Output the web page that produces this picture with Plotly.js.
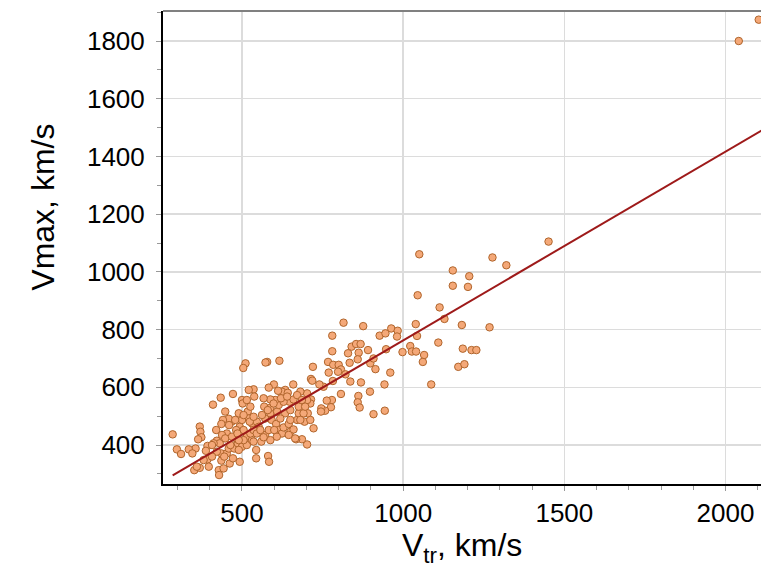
<!DOCTYPE html>
<html>
<head>
<meta charset="utf-8">
<script src="https://cdn.plot.ly/plotly-3.0.1.min.js"></script>
<style>html,body{margin:0;padding:0;background:#fff;}#chart{width:761px;height:568px;}</style>
</head>
<body>
<div id="chart"></div>
<script>
// Scatter data: transit speed (Vtr) vs maximum speed (Vmax), km/s
const vtr = [
1050,1045,1113,1128,815,876,780,927,945,963,983,981,1039,1043,1022,998,1027,1040,1065,1061,1109,1087,
840,854,868,829,862,891,780,767,783,800,807,834,859,898,914,908,947,960,942,943,908,
720,769,798,821,836,869,782,753,714,718,740,807,897,861,859,865,779,763,776,758,746,745,714,
722,702,686,668,694,712,704,712,702,681,659,634,624,642,612,599,583,616,578,573,511,504,
536,538,500,502,472,434,410,448,518,521,500,493,482,468,459,441,436,420,422,431,412,393,388,
369,371,374,364,356,335,346,298,311,285,352,369,393,397,428,429,443,436,436,462,453,459,476,
487,493,464,482,500,515,515,505,531,526,505,531,546,552,544,544,560,572,583,572,588,609,614,
603,588,567,569,588,592,606,614,624,608,588,581,584,629,645,650,660,645,665,671,676,676,691,
648,660,629,634,650,702,521,515,526,490,479,505,460,453,438,407,448,469,486,490,472,445,422,
407,381,360,536,546,557,524,536,562,580,598,621,640,671,686,696,681,650,619,600,567,536,490,
1451,1277,1320,1154,1205,1154,1201,1182,1268,1185,1212,1227,1171,1190,
2041,2103
];
const vmax = [
1061,919,877,837,824,812,779,779,787,804,796,776,819,778,743,722,724,724,712,688,755,610,
741,750,750,718,720,729,725,688,678,678,662,685,697,683,663,700,732,651,610,519,507,
671,651,654,645,620,617,622,602,629,623,610,577,585,570,548,530,556,554,531,519,527,516,558,
458,402,420,420,481,487,510,544,579,585,610,591,585,581,588,610,599,692,688,686,683,667,
593,568,556,544,577,564,540,516,516,492,487,463,452,481,491,487,473,452,415,406,406,397,380,
464,446,427,420,388,385,371,385,369,437,313,321,350,325,313,296,319,346,371,336,371,388,388,
406,342,400,423,394,400,429,417,417,440,452,475,481,463,383,354,412,435,452,492,510,516,539,
556,558,562,533,529,487,473,452,440,429,417,362,342,461,473,446,454,435,423,487,510,533,510,
550,558,550,510,521,556,591,556,533,510,487,504,469,440,435,400,423,429,440,383,354,360,377,
360,348,325,452,440,452,481,498,504,521,544,562,568,573,556,533,487,487,492,452,427,412,417,
1105,1050,1023,1005,985,952,948,816,808,734,729,729,671,680,
1800,1874
];
// Fitted trend line end points
const fitX = [285, 2115];
const fitY = [295, 1492];

const xTickVals = [500, 1000, 1500, 2000];
const yTickVals = [400, 600, 800, 1000, 1200, 1400, 1600, 1800];

const font = 'Liberation Sans, Arial, sans-serif';

const traces = [
  {
    x: vtr, y: vmax, type: 'scatter', mode: 'markers',
    marker: {size: 7.5, color: '#F4A878', line: {color: '#B0652C', width: 1}},
    cliponaxis: true, hoverinfo: 'x+y', showlegend: false
  },
  {
    x: fitX, y: fitY, type: 'scatter', mode: 'lines',
    line: {color: '#9E1A1A', width: 2}, showlegend: false
  }
];

const layout = {
  width: 761, height: 568,
  margin: {l: 163, r: 0, t: 11, b: 84, pad: 0},
  paper_bgcolor: '#fff', plot_bgcolor: '#fff',
  font: {family: font, color: '#000', size: 26},
  showlegend: false,
  xaxis: {
    range: [255, 2110], tickvals: xTickVals, ticktext: xTickVals.map(String),
    showgrid: true, gridcolor: '#dcdcdc', gridwidth: 1.5,
    showline: true, linecolor: '#000', linewidth: 2, zeroline: false,
    ticks: 'outside', ticklen: 5, tickcolor: '#999', tickwidth: 1,
    minor: {dtick: 100, ticks: 'outside', ticklen: 4, tickcolor: '#999', showgrid: false},
    tickfont: {family: font, size: 26, color: '#000'}
  },
  yaxis: {
    range: [265, 1904], tickvals: yTickVals, ticktext: yTickVals.map(String),
    showgrid: true, gridcolor: '#dcdcdc', gridwidth: 1.5,
    showline: true, linecolor: '#000', linewidth: 2, zeroline: false,
    ticks: 'outside', ticklen: 5, tickcolor: '#999', tickwidth: 1, ticklabelstandoff: 6,
    minor: {dtick: 100, ticks: 'outside', ticklen: 4, tickcolor: '#999', showgrid: false},
    tickfont: {family: font, size: 26, color: '#000'}
  },
  shapes: [
    {type: 'line', xref: 'paper', yref: 'paper', x0: 0, x1: 1, y0: 1, y1: 1,
     line: {color: '#808080', width: 2}}
  ],
  annotations: [
    {text: 'V<sub>tr</sub>, km/s', xref: 'paper', yref: 'paper', x: 0.5, y: -0.134,
     xanchor: 'center', yanchor: 'middle', showarrow: false,
     font: {family: font, size: 32, color: '#000'}},
    {text: 'Vmax, km/s', xref: 'paper', yref: 'paper', x: -0.2, y: 0.585,
     xanchor: 'center', yanchor: 'middle', textangle: -90, showarrow: false,
     font: {family: font, size: 32, color: '#000'}}
  ]
};

Plotly.newPlot('chart', traces, layout, {displayModeBar: false, staticPlot: true});
</script>
</body>
</html>
